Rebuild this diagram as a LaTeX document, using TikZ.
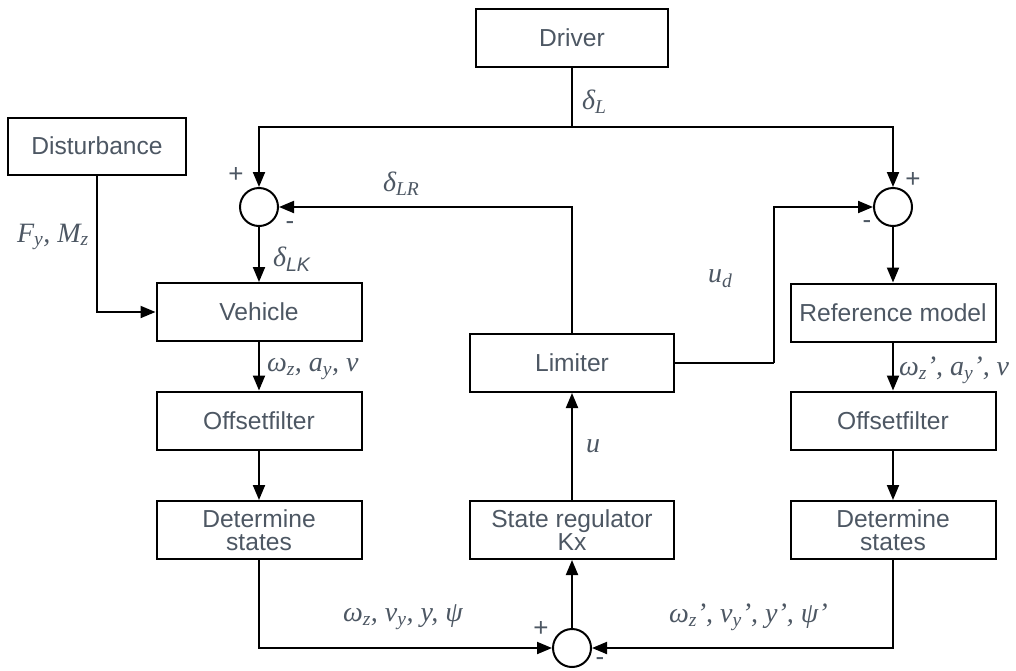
\documentclass[tikz,border=0pt]{standalone}
\usepackage{fontspec}
\usepackage{amsmath}
\setmainfont{Liberation Sans}
\newfontfamily\lblf{Liberation Serif}
\usetikzlibrary{arrows.meta}
\definecolor{txt}{RGB}{77,87,99}
\tikzset{
  blk/.style={draw, line width=2pt, minimum width=205pt, minimum height=58pt, inner sep=0pt,
    text=txt, font=\fontsize{24.6}{23.5}\selectfont, align=center},
  sumn/.style={draw, circle, line width=2pt, minimum size=38pt, inner sep=0pt},
  arr/.style={-{Triangle[length=15pt,width=12pt]}},
  lbl/.style={text=txt, font=\lblf\itshape\fontsize{28}{30}\selectfont, inner sep=0pt, anchor=west},
  sgn/.style={text=txt, font=\fontsize{26}{28}\selectfont, inner sep=0pt}
}
\begin{document}
\begin{tikzpicture}[x=1pt, y=-1pt, line width=2pt]
\useasboundingbox (0,0) rectangle (1016,670);
% blocks
\node[blk, minimum width=192pt] (driver) at (572,38) {Driver};
\node[blk, minimum width=178pt, minimum height=57pt] (dist) at (97,146) {Disturbance};
\node[blk] (veh) at (259,312) {Vehicle};
\node[blk] (offL) at (259,420.5) {Offsetfilter};
\node[blk] (detL) at (259,530) {Determine\\states};
\node[blk, minimum width=204pt] (lim) at (572,363) {Limiter};
\node[blk, minimum width=204pt] (reg) at (572,530) {State regulator\\Kx};
\node[blk] (refm) at (893,312.5) {Reference model};
\node[blk] (offR) at (893,420.5) {Offsetfilter};
\node[blk] (detR) at (893,530) {Determine\\states};
% summing junctions
\node[sumn] (sumL) at (259,207) {};
\node[sumn] (sumR) at (893,207) {};
\node[sumn] (sumB) at (572,648) {};
% helper coordinates
\coordinate (j) at (572,127);
\coordinate (ud) at (774,363);
% connectors
\draw (driver.south) -- (j);
\draw[arr] (j) -| (sumL.north);
\draw[arr] (j) -| (sumR.north);
\draw[arr] (lim.north) |- (sumL.east);
\draw[arr] (sumL.south) -- (veh.north);
\draw[arr] (dist.south) |- (veh.west);
\draw[arr] (veh.south) -- (offL.north);
\draw[arr] (offL.south) -- (detL.north);
\draw[arr] (detL.south) |- (sumB.west);
\draw[arr] (detR.south) |- (sumB.east);
\draw[arr] (sumB.north) -- (reg.south);
\draw[arr] (reg.north) -- (lim.south);
\draw (lim.east) -- (ud);
\draw[arr] (ud) |- (sumR.west);
\draw[arr] (sumR.south) -- (refm.north);
\draw[arr] (refm.south) -- (offR.north);
\draw[arr] (offR.south) -- (detR.north);
% signs
\node[sgn] (pL) at (236,175) {+};
\node[sgn] (mL) at (290,226) {-};
\node[sgn] (pR) at (913,180) {+};
\node[sgn] (mR) at (867,225) {-};
\node[sgn] (pB) at (541,629) {+};
\node[sgn] (mB) at (600,662) {-};
% labels
\node[lbl] (lDL) at (581,102) {δ\textsubscript{L}};
\node[lbl] (lDLR) at (382,184) {δ\textsubscript{LR}};
\node[lbl] (lDLK) at (272,259) {δ\textsubscript{\normalfont\itshape LK}};
\node[lbl] (lF) at (16,237) {F\textsubscript{y}, M\textsubscript{z}};
\node[lbl] (lud) at (707,279) {u\textsubscript{d}};
\node[lbl] (lwL) at (266,369) {ω\textsubscript{z}, a\textsubscript{y}, v};
\node[lbl] (lwR) at (898,370) {ω\textsubscript{z}’, a\textsubscript{y}’, v};
\node[lbl] (lu) at (585,446) {u};
\node[lbl] (lbL) at (342,617) {ω\textsubscript{z}, v\textsubscript{y}, y, ψ};
\node[lbl] (lbR) at (668,617) {ω\textsubscript{z}’, v\textsubscript{y}’, y’, ψ’};
\end{tikzpicture}
\end{document}
